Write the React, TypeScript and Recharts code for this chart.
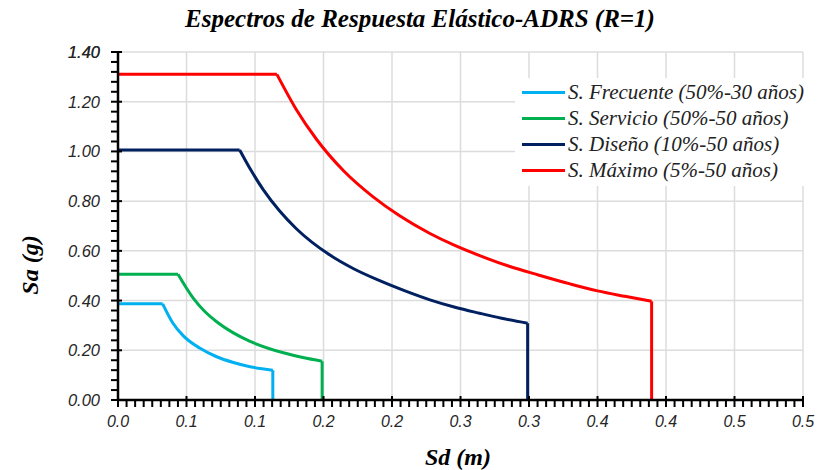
import * as React from 'react'
import { LineChart, Line, XAxis, YAxis, CartesianGrid } from 'recharts'

// Sd (m) / Sa (g) points
const frecuente = [
    { sd: 0, sa: 0.387 }, { sd: 0.0326, sa: 0.387 }, { sd: 0.04, sa: 0.31 },
    { sd: 0.0477, sa: 0.258 }, { sd: 0.0599, sa: 0.208 }, { sd: 0.072, sa: 0.174 },
    { sd: 0.0842, sa: 0.151 }, { sd: 0.0964, sa: 0.134 }, { sd: 0.113, sa: 0.12 },
    { sd: 0.113, sa: 0 },
]
const servicio = [
    { sd: 0, sa: 0.506 }, { sd: 0.0438, sa: 0.506 }, { sd: 0.0549, sa: 0.41 },
    { sd: 0.063, sa: 0.358 }, { sd: 0.072, sa: 0.315 }, { sd: 0.0842, sa: 0.27 },
    { sd: 0.0964, sa: 0.236 }, { sd: 0.1207, sa: 0.19 }, { sd: 0.135, sa: 0.171 },
    { sd: 0.149, sa: 0.156 }, { sd: 0.149, sa: 0 },
]
const diseno = [
    { sd: 0, sa: 1.006 }, { sd: 0.0888, sa: 1.006 }, { sd: 0.097, sa: 0.925 },
    { sd: 0.106, sa: 0.846 }, { sd: 0.118, sa: 0.76 }, { sd: 0.13, sa: 0.69 },
    { sd: 0.1547, sa: 0.583 }, { sd: 0.172, sa: 0.528 }, { sd: 0.191, sa: 0.48 },
    { sd: 0.21, sa: 0.438 }, { sd: 0.2277, sa: 0.403 }, { sd: 0.246, sa: 0.373 },
    { sd: 0.264, sa: 0.349 }, { sd: 0.28, sa: 0.329 }, { sd: 0.299, sa: 0.309 },
    { sd: 0.299, sa: 0 },
]
const maximo = [
    { sd: 0, sa: 1.31 }, { sd: 0.116, sa: 1.31 }, { sd: 0.13, sa: 1.17 },
    { sd: 0.145, sa: 1.048 }, { sd: 0.165, sa: 0.92 }, { sd: 0.186, sa: 0.818 },
    { sd: 0.205, sa: 0.743 }, { sd: 0.2277, sa: 0.67 }, { sd: 0.245, sa: 0.624 },
    { sd: 0.264, sa: 0.581 }, { sd: 0.285, sa: 0.539 }, { sd: 0.3068, sa: 0.503 },
    { sd: 0.33, sa: 0.467 }, { sd: 0.35, sa: 0.439 }, { sd: 0.37, sa: 0.417 },
    { sd: 0.3895, sa: 0.397 }, { sd: 0.3895, sa: 0 },
]

const seriesNames = [
    'S. Frecuente (50%-30 años)',
    'S. Servicio (50%-50 años)',
    'S. Diseño (10%-50 años)',
    'S. Máximo (5%-50 años)',
]
const seriesColors = ['#00B0F0', '#00B050', '#002060', '#FF0000']
const seriesData = [frecuente, servicio, diseno, maximo]

const xTickLabels = ['0.0', '0.1', '0.1', '0.2', '0.2', '0.3', '0.3', '0.4', '0.4', '0.5', '0.5']
const yTickLabels = ['0.00', '0.20', '0.40', '0.60', '0.80', '1.00', '1.20', '1.40']

const xMajor = xTickLabels.map((_, i) => i * 0.05)
const yMajor = yTickLabels.map((_, i) => i * 0.2)
const xMinorTicks = Array.from({ length: 81 }, (_, i) => i * 0.00625)
const yMinorTicks = Array.from({ length: 36 }, (_, i) => i * 0.04).concat([1.4])

const tickFont = '"Liberation Sans", Arial, sans-serif'
const serif = '"Liberation Serif", "Times New Roman", serif'

// labels only on major ticks; tick marks come from the axis itself
const XTick = (props: any) => {
    const { x, y, payload } = props
    const i = Math.round(payload.value / 0.00625)
    if (i % 8 !== 0) return <g />
    return (
        <g>
            <line x1={x} x2={x} y1={y - 11} y2={y - 7} stroke="#000" strokeWidth={2} />
            <text x={x} y={y + 20} textAnchor="middle" fontFamily={tickFont} fontStyle="italic" fontSize={16} fill="#262626">
                {xTickLabels[i / 8]}
            </text>
        </g>
    )
}

const YTick = (props: any) => {
    const { x, y, payload } = props
    const i = Math.round(payload.value / 0.04)
    if (i % 5 !== 0) return <g />
    return (
        <g>
            <line x1={x + 7} x2={x + 11} y1={y} y2={y} stroke="#000" strokeWidth={2} />
            <text x={x - 11} y={y + 6} textAnchor="end" fontFamily={tickFont} fontStyle="italic" fontSize={16.5} fill="#262626">
                {yTickLabels[i / 5]}
            </text>
        </g>
    )
}

export default function App() {
    const lines: any[] = []
    seriesData.forEach((d, k) => {
        const common = {
            dataKey: 'sa',
            stroke: seriesColors[k],
            strokeWidth: 3,
            dot: false,
            activeDot: false,
            isAnimationActive: false,
        }
        // plateau, curved branch, vertical drop
        lines.push(<Line key={k + 'a'} {...common} data={d.slice(0, 2)} type="linear" name={seriesNames[k]} />)
        lines.push(<Line key={k + 'b'} {...common} data={d.slice(1, -1)} type="monotone" legendType="none" />)
        lines.push(<Line key={k + 'c'} {...common} data={d.slice(-2)} type="linear" legendType="none" />)
    })

    return (
        <div style={{ position: 'absolute', left: 0, top: 0, width: 818, height: 470, background: '#fff' }}>
            <LineChart width={818} height={470} margin={{ top: 52, right: 15, bottom: 40, left: 58 }}>
                <CartesianGrid stroke="#dcdcdc" strokeWidth={1.5} verticalValues={xMajor} horizontalValues={yMajor} />
                <XAxis
                    type="number"
                    dataKey="sd"
                    domain={[0, 0.5]}
                    ticks={xMinorTicks}
                    interval={0}
                    tick={<XTick />}
                    tickLine={{ stroke: '#000', strokeWidth: 2 }}
                    tickSize={7}
                    tickMargin={0}
                    height={30}
                    axisLine={{ stroke: '#000', strokeWidth: 2.5 }}
                    allowDataOverflow
                />
                <YAxis
                    type="number"
                    domain={[0, 1.4]}
                    ticks={yMinorTicks}
                    interval={0}
                    tick={<YTick />}
                    tickLine={{ stroke: '#000', strokeWidth: 2 }}
                    tickSize={7}
                    tickMargin={0}
                    width={60}
                    axisLine={{ stroke: '#000', strokeWidth: 2.5 }}
                    allowDataOverflow
                />
                {lines}
            </LineChart>

            <div style={{ position: 'absolute', left: 10, top: 4, width: 820, textAlign: 'center', fontFamily: serif, fontWeight: 'bold', fontStyle: 'italic', fontSize: 25, lineHeight: '30px' }}>
                Espectros de Respuesta Elástico-ADRS (R=1)
            </div>
            <div style={{ position: 'absolute', left: 358, top: 442, width: 200, textAlign: 'center', fontFamily: serif, fontWeight: 'bold', fontStyle: 'italic', fontSize: 24, lineHeight: '30px' }}>
                Sd (m)
            </div>
            <div style={{ position: 'absolute', left: -70, top: 250, width: 200, textAlign: 'center', fontFamily: serif, fontWeight: 'bold', fontStyle: 'italic', fontSize: 24, lineHeight: '30px', transform: 'rotate(-90deg)' }}>
                Sa (g)
            </div>

            <div style={{ position: 'absolute', left: 515, top: 78, width: 295, height: 108, background: '#fff', paddingLeft: 7, boxSizing: 'border-box' }}>
                {seriesNames.map((n, k) => (
                    <div key={n} style={{ display: 'flex', alignItems: 'center', height: 26, marginTop: k === 0 ? 1 : 0 }}>
                        <div style={{ width: 43, height: 3, background: seriesColors[k], marginRight: 3, flexShrink: 0 }} />
                        <span style={{ fontFamily: serif, fontStyle: 'italic', fontSize: 21, color: '#222', whiteSpace: 'nowrap' }}>{n}</span>
                    </div>
                ))}
            </div>
        </div>
    )
}
